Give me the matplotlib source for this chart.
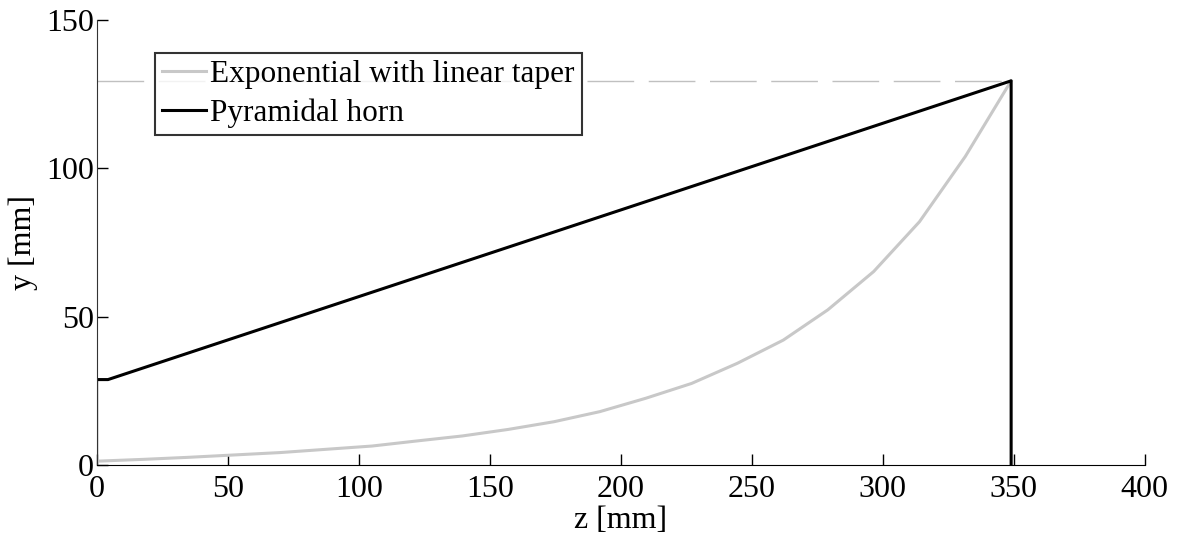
import matplotlib
matplotlib.use("Agg")
import matplotlib.pyplot as plt

# ---------- data ----------
# exponential profile with linear taper (z in mm, half-width y in mm)
exp_z = [0, 0, 17.5, 35, 52.5, 70, 87.5, 105, 122, 139.5, 157, 174.5, 192,
         209.5, 227, 244.5, 262, 279, 296.5, 314, 331.5, 349]
exp_y = [28.8, 1.3, 1.9, 2.6, 3.4, 4.2, 5.3, 6.4, 8.1, 9.8, 12.0, 14.6, 18.0,
         22.5, 27.5, 34.3, 42.1, 52.3, 65.2, 82.0, 104.0, 129.5]

# pyramidal horn: straight taper, then the aperture edge back down to 0
pyr_z = [0, 4.2, 349, 349]
pyr_y = [28.8, 28.8, 129.5, 0]

# aperture height reference line
ref_z = [0, 349]
ref_y = [129.5, 129.5]

labels = ["Exponential with linear taper", "Pyramidal horn"]
x_ticks = [0, 50, 100, 150, 200, 250, 300, 350, 400]
y_ticks = [0, 50, 100, 150]
# ---------------------------------------------------

plt.rcParams["font.family"] = ["Liberation Serif", "DejaVu Serif"]
plt.rcParams["font.size"] = 23

fig = plt.figure(figsize=(11.8, 5.35), dpi=100)
ax = fig.add_axes([0.0822, 0.1308, 0.8879, 0.8318])

ax.plot(ref_z, ref_y, color="#c0c0c0", lw=1.0, dashes=(33.6, 10.5))
ax.plot(exp_z, exp_y, color="#c8c8c8", lw=2.2, label=labels[0])
ax.plot(pyr_z, pyr_y, color="black", lw=2.2, label=labels[1])

ax.set_xlim(0, 400)
ax.set_ylim(0, 150)
ax.set_xticks(x_ticks)
ax.set_yticks(y_ticks)
ax.tick_params(direction="in", length=8, width=1, labelsize=23)
ax.tick_params(axis="x", pad=7)
ax.tick_params(axis="y", pad=2)

for s in ["top", "right"]:
    ax.spines[s].set_visible(False)
ax.spines["left"].set_color("#333333")
ax.spines["bottom"].set_color("black")

ax.set_xlabel("z [mm]", fontsize=23)
ax.xaxis.set_label_coords(0.5, -0.092)
ax.set_ylabel("y [mm]", fontsize=23, labelpad=6)

leg = ax.legend(loc="upper left", bbox_to_anchor=(0.0555, 0.9267),
                frameon=True, fancybox=False, edgecolor="black",
                prop={"size": 22.5}, handlelength=1.4, handletextpad=0.15,
                borderpad=0.22, labelspacing=0.32, borderaxespad=0)
leg.get_frame().set_linewidth(1.5)

fig.savefig("out.png", dpi=100)
